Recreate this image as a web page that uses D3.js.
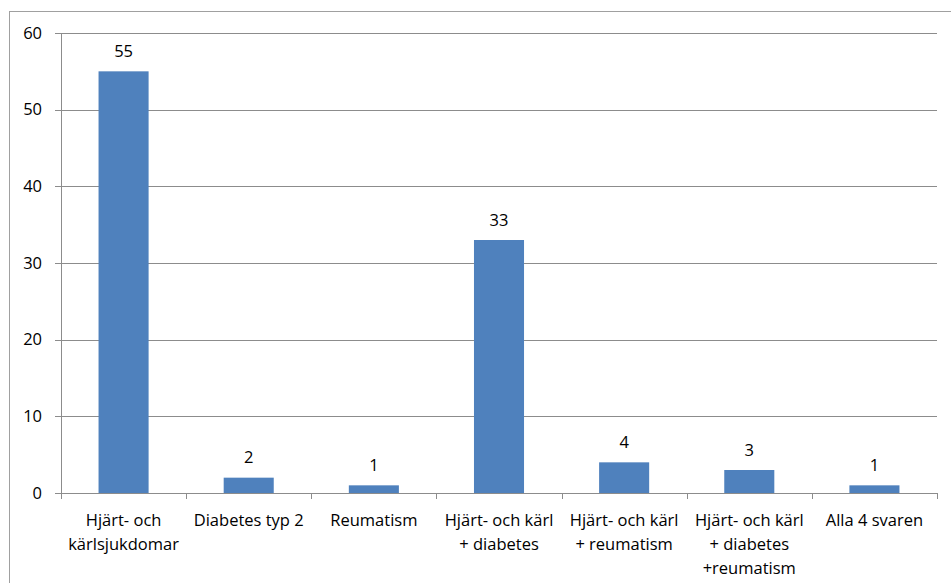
<!DOCTYPE html>
<html>
<head>
<meta charset="utf-8">
<title>Sjukdomar</title>
<script src="https://cdn.jsdelivr.net/npm/d3@7"></script>
<style>
body { margin: 0; background: #fff; }
text { font-family: "Open Sans", "Noto Sans", sans-serif; fill: #000; }
</style>
</head>
<body>
<script>
var categories = [
    ["Hjärt- och", "kärlsjukdomar"],
    ["Diabetes typ 2"],
    ["Reumatism"],
    ["Hjärt- och kärl", "+ diabetes"],
    ["Hjärt- och kärl", "+ reumatism"],
    ["Hjärt- och kärl", "+ diabetes", "+reumatism"],
    ["Alla 4 svaren"]
];
var values = [55, 2, 1, 33, 4, 3, 1];
var yTicks = [0, 10, 20, 30, 40, 50, 60];

var width = 951, height = 583;
var plotLeft = 61, plotRight = 937, plotTop = 33, plotBottom = 493;
var fontSize = "16.5px";

var svg = d3.select("body").append("svg")
    .attr("width", width)
    .attr("height", height);

// chart border
svg.append("rect")
    .attr("x", 9.5).attr("y", 11.5)
    .attr("width", 960).attr("height", 600)
    .attr("fill", "none")
    .attr("stroke", "#a0a0a0")
    .attr("stroke-width", 1);

var x = d3.scaleBand()
    .domain(d3.range(categories.length))
    .range([plotLeft, plotRight])
    .paddingInner(0.6)
    .paddingOuter(0.3);

var y = d3.scaleLinear()
    .domain([0, 60])
    .range([plotBottom, plotTop]);

// gridlines
svg.append("g")
    .selectAll("line")
    .data(yTicks)
    .enter().append("line")
    .attr("x1", plotLeft - 6).attr("x2", plotRight)
    .attr("y1", function(d){ return Math.round(y(d)) + 0.5; })
    .attr("y2", function(d){ return Math.round(y(d)) + 0.5; })
    .attr("stroke", "#8c8c8c")
    .attr("stroke-width", 1);

// y axis labels
svg.append("g")
    .selectAll("text")
    .data(yTicks)
    .enter().append("text")
    .attr("x", plotLeft - 19)
    .attr("y", function(d){ return y(d); })
    .attr("dy", "0.35em")
    .attr("text-anchor", "end")
    .style("font-size", fontSize)
    .text(function(d){ return d; });

// y axis line
svg.append("line")
    .attr("x1", plotLeft + 0.5).attr("x2", plotLeft + 0.5)
    .attr("y1", plotTop).attr("y2", plotBottom)
    .attr("stroke", "#8c8c8c");

// bars
svg.append("g")
    .selectAll("rect")
    .data(values)
    .enter().append("rect")
    .attr("x", function(d, i){ return x(i); })
    .attr("y", function(d){ return y(d); })
    .attr("width", x.bandwidth())
    .attr("height", function(d){ return y(0) - y(d); })
    .attr("fill", "#4f81bd");

// value labels
svg.append("g")
    .selectAll("text")
    .data(values)
    .enter().append("text")
    .attr("x", function(d, i){ return x(i) + x.bandwidth() / 2; })
    .attr("y", function(d){ return y(d) - 20; })
    .attr("dy", "0.35em")
    .attr("text-anchor", "middle")
    .style("font-size", fontSize)
    .text(function(d){ return d; });

// x axis tick marks
var step = (plotRight - plotLeft) / categories.length;
svg.append("g")
    .selectAll("line")
    .data(d3.range(categories.length + 1))
    .enter().append("line")
    .attr("x1", function(d){ return Math.round(plotLeft + d * step) + 0.5; })
    .attr("x2", function(d){ return Math.round(plotLeft + d * step) + 0.5; })
    .attr("y1", plotBottom).attr("y2", plotBottom + 6)
    .attr("stroke", "#8c8c8c");

// category labels
var catLabels = svg.append("g")
    .selectAll("text")
    .data(categories)
    .enter().append("text")
    .attr("text-anchor", "middle")
    .style("font-size", fontSize);

catLabels.selectAll("tspan")
    .data(function(d, i){ return d.map(function(t){ return {t: t, i: i}; }); })
    .enter().append("tspan")
    .attr("x", function(d){ return plotLeft + (d.i + 0.5) * step; })
    .attr("y", function(d, j){ return 526 + j * 24; })
    .text(function(d){ return d.t; });
</script>
</body>
</html>
